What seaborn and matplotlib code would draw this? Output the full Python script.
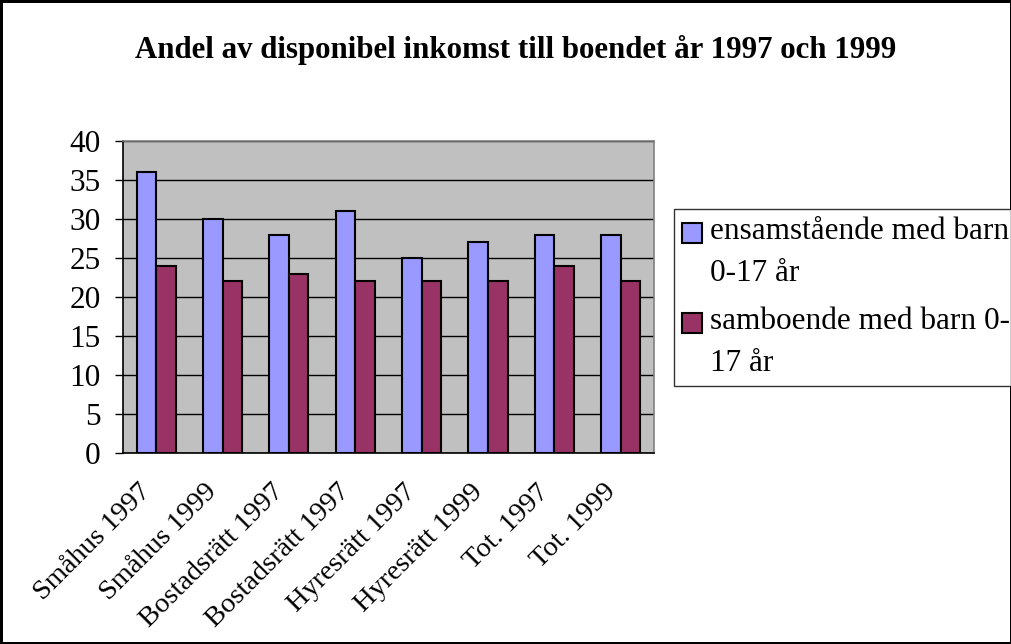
import matplotlib
matplotlib.use("Agg")
import matplotlib.pyplot as plt
import matplotlib.patches as mpatches
import matplotlib.transforms as mtransforms
from matplotlib.legend_handler import HandlerPatch
import seaborn as sns
import pandas as pd

categories = ["Småhus 1997", "Småhus 1999", "Bostadsrätt 1997", "Bostadsrätt 1997",
              "Hyresrätt 1997", "Hyresrätt 1999", "Tot. 1997", "Tot. 1999"]
series_names = ["ensamstående med barn\n0-17 år", "samboende med barn 0-\n17 år"]
ensam = [36, 30, 28, 31, 25, 27, 28, 28]
sambo = [24, 22, 23, 22, 22, 22, 24, 22]
yticks = [0, 5, 10, 15, 20, 25, 30, 35, 40]
title = "Andel av disponibel inkomst till boendet år 1997 och 1999"

pos = list(range(len(categories)))
df = pd.DataFrame({
    "pos": pos * 2,
    "value": ensam + sambo,
    "series": [series_names[0]] * len(pos) + [series_names[1]] * len(pos),
})

sns.set_theme(style="white")
plt.rcParams["font.family"] = ["Liberation Serif", "DejaVu Serif"]
plt.rcParams["text.color"] = "black"
plt.rcParams["xtick.color"] = "black"
plt.rcParams["ytick.color"] = "black"

fig = plt.figure(figsize=(10.12, 6.44), dpi=100)
fig.patch.set_facecolor("white")
ax = fig.add_axes([0.1215, 0.2966, 0.5247, 0.4844])

sns.barplot(data=df, x="pos", y="value", hue="series", hue_order=series_names,
            palette=["#9999FF", "#993366"], saturation=1, width=0.59, edgecolor="black",
            linewidth=1.5, ax=ax, legend=True)

ax.set_facecolor("#C0C0C0")
ax.set_ylim(0, 40)
ax.set_xlim(-0.5, len(categories) - 0.5)
ax.set_yticks(yticks)
ax.set_yticklabels([str(t) for t in yticks], fontsize=22.5)
ax.yaxis.grid(True, color="black", linewidth=1.0)
ax.set_axisbelow(True)
ax.set_xlabel("")
ax.set_ylabel("")

ax.set_xticks(pos)
ax.set_xticks([p - 0.5 for p in pos] + [len(pos) - 0.5], minor=True)
ax.tick_params(axis="x", which="major", length=0, pad=19)
ax.tick_params(axis="x", which="minor", length=6, width=1, color="black", direction="out")
ax.tick_params(axis="y", which="major", length=6, width=1, color="black", direction="out", left=True, pad=10)
ax.set_xticklabels(categories, rotation=45, ha="right", rotation_mode="anchor", fontsize=20.5)

for s in ["left", "bottom"]:
    ax.spines[s].set_color("black")
    ax.spines[s].set_linewidth(1.2)
for s in ["top", "right"]:
    ax.spines[s].set_color("#808080")
    ax.spines[s].set_linewidth(1.2)


def top_patch(legend, orig_handle, xdescent, ydescent, width, height, fontsize):
    return mpatches.Rectangle((-xdescent, -ydescent + 0.62 * fontsize), width, height)


handles, labels = ax.get_legend_handles_labels()
ax.get_legend().remove()
leg = fig.legend(handles, labels, loc="upper left", bbox_to_anchor=(0.666, 0.6755),
                 fontsize=22.5, frameon=True, fancybox=False, edgecolor="black",
                 handlelength=0.64, handleheight=0.64, handletextpad=0.25,
                 labelspacing=0.6, borderpad=0.25, borderaxespad=0,
                 handler_map={mpatches.Rectangle: HandlerPatch(patch_func=top_patch)})
leg.get_frame().set_linewidth(1.0)
for t in leg.get_texts():
    t.set_linespacing(1.6)

fig.text(0.51, 0.922, title, ha="center", va="center", fontsize=22.2, fontweight="bold")

fig.patch.set_edgecolor("black")
fig.patch.set_linewidth(2.5)

# shift rotated category labels slightly left (as in the reference)
fig.canvas.draw()
shift = mtransforms.ScaledTranslation(-18 / 100, 0, fig.dpi_scale_trans)
for tick in ax.xaxis.get_major_ticks():
    tick.label1.set_transform(tick.label1.get_transform() + shift)

fig.savefig("out.png", dpi=100, facecolor=fig.get_facecolor(), edgecolor=fig.get_edgecolor())
